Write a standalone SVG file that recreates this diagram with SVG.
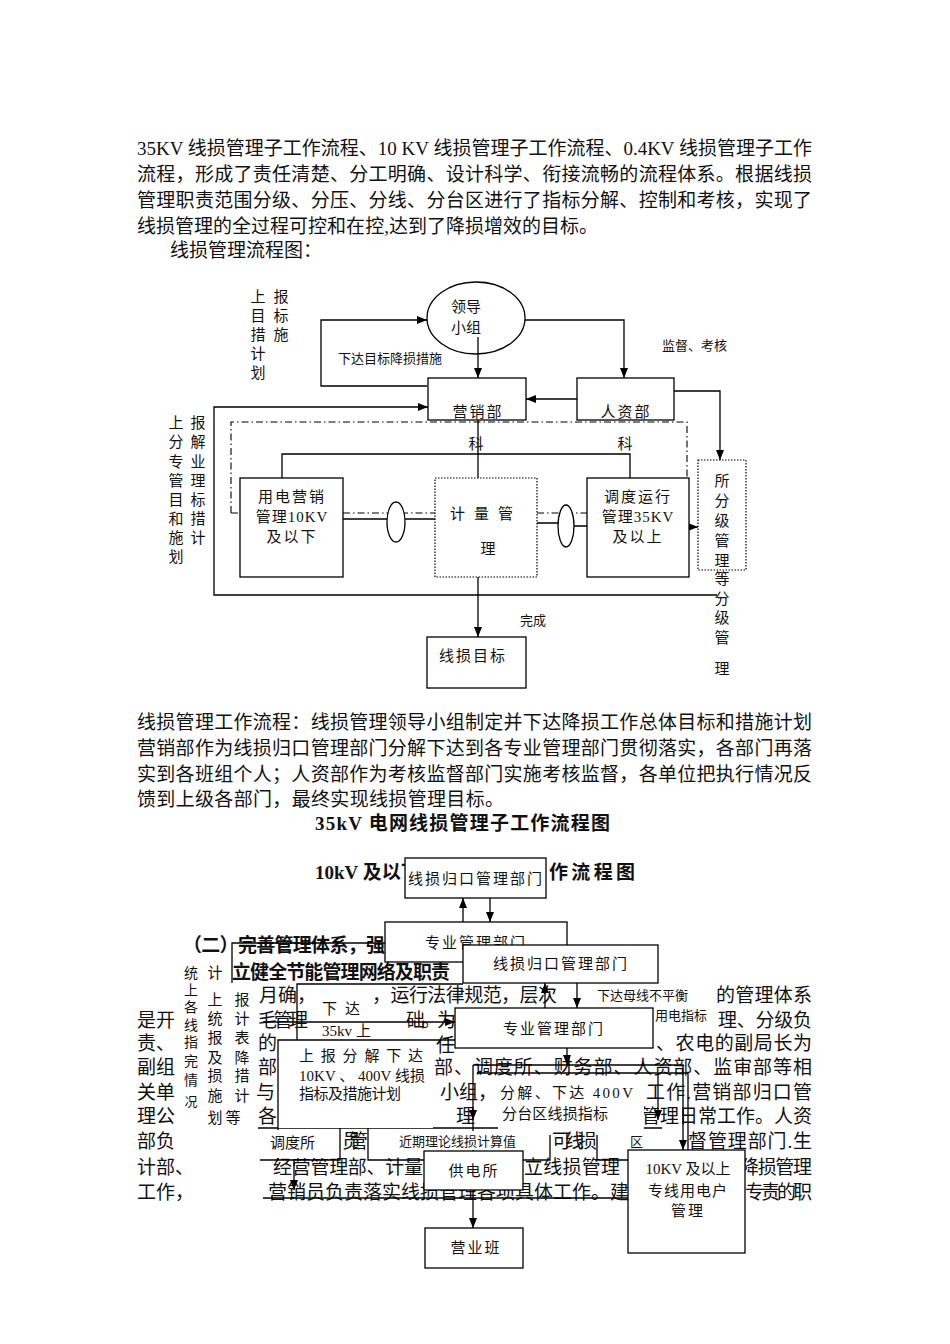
<svg xmlns="http://www.w3.org/2000/svg" width="950" height="1344" viewBox="0 0 950 1344">
<defs>
<style>
.p{font-family:"Liberation Serif","Noto Sans CJK SC",serif;font-size:19px;fill:#111}
.b{font-weight:bold}
.t{font-family:"Liberation Serif","Noto Sans CJK SC",serif;font-size:15px;fill:#111}
.s{font-family:"Noto Sans CJK SC",sans-serif;font-size:13px;fill:#111}
.m{text-anchor:middle}
.ln{stroke:#000;stroke-width:1.3;fill:none}
.bx{fill:#fff;stroke:#000;stroke-width:1.3}
.dt{fill:#fff;stroke:#000;stroke-width:1.2;stroke-dasharray:1.5 1.5}
.dd{stroke:#000;stroke-width:1.1;fill:none;stroke-dasharray:7 3 1.5 3}
.wh{fill:#fff;stroke:none}
</style>
<marker id="ah" viewBox="0 0 10 8" refX="10" refY="4" markerWidth="10" markerHeight="8" markerUnits="userSpaceOnUse" orient="auto"><path d="M0,0 L10,4 L0,8 z" fill="#000"/></marker>
</defs>
<rect width="950" height="1344" fill="#fff"/>

<g id="para1">
<text class="p" x="137" y="155" textLength="675">35KV 线损管理子工作流程、10 KV 线损管理子工作流程、0.4KV 线损管理子工作</text>
<text class="p" x="137" y="181" textLength="675">流程，形成了责任清楚、分工明确、设计科学、衔接流畅的流程体系。根据线损</text>
<text class="p" x="137" y="207" textLength="675">管理职责范围分级、分压、分线、分台区进行了指标分解、控制和考核，实现了</text>
<text class="p" x="137" y="233" textLength="461">线损管理的全过程可控和在控,达到了降损增效的目标。</text>
<text class="p" x="170" y="257">线损管理流程图：</text>
</g>

<g id="connectors1">
<path class="ln" d="M427,386 H321 V320 H427" marker-end="url(#ah)"/>
<path class="ln" d="M478,337 V378" marker-end="url(#ah)"/>
<path class="ln" d="M525,320 H624 V378" marker-end="url(#ah)"/>
<path class="ln" d="M577,399 H526" marker-end="url(#ah)"/>
<path class="ln" d="M674,391 H720 V460" marker-end="url(#ah)"/>
<path class="ln" d="M717,595 H214 V407 H428" marker-end="url(#ah)"/>
<path class="ln" d="M478,420 V637" marker-end="url(#ah)"/>
<path class="ln" d="M282,478 V454 H630 V478"/>
<path class="dd" d="M231,513 V422 H687 V478"/>
<path class="dd" d="M231,513 H240 M343,513 H435 M537,513 H587"/>
<path class="ln" d="M343,519 H435"/>
<path class="ln" d="M537,523 H558 M574,526 H587"/>
<path class="ln" d="M689,527 H698" marker-end="url(#ah)"/>
</g>

<g id="n-lingdao">
<ellipse class="bx" cx="476" cy="318" rx="49" ry="36" fill-opacity="0"/>
<text class="t m" x="466" y="312" font-size="14">领导</text>
<text class="t m" x="466" y="333" font-size="14">小组</text>
</g>
<g id="n-yingxiao">
<rect class="bx" x="428" y="378" width="98" height="42"/>
<text class="t m" x="478" y="417" font-size="17" letter-spacing="2">营销部</text>
</g>
<g id="n-renzi">
<rect class="bx" x="577" y="378" width="97" height="42"/>
<text class="t m" x="626" y="417" font-size="17" letter-spacing="2">人资部</text>
</g>
<g id="n-yongdian">
<rect class="bx" x="240" y="478" width="103" height="99"/>
<text class="t m" x="292" y="502" letter-spacing="2">用电营销</text>
<text class="t m" x="292" y="522" letter-spacing="1">管理10KV</text>
<text class="t m" x="292" y="542" letter-spacing="2">及以下</text>
</g>
<g id="n-jiliang">
<rect class="dt" x="435" y="478" width="102" height="99"/>
<text class="t m" x="486" y="519" letter-spacing="9">计量管</text>
<text class="t m" x="488" y="554">理</text>
</g>
<g id="n-diaodu">
<rect class="bx" x="587" y="478" width="102" height="99"/>
<text class="t m" x="638" y="502" letter-spacing="2">调度运行</text>
<text class="t m" x="638" y="522" letter-spacing="1">管理35KV</text>
<text class="t m" x="638" y="542" letter-spacing="2">及以上</text>
</g>
<g id="n-ellipses">
<ellipse class="bx" cx="396" cy="522" rx="9" ry="20"/>
<ellipse class="bx" cx="566" cy="526" rx="8" ry="21"/>
</g>
<g id="n-suofenji">
<rect class="dt" x="698" y="460" width="48" height="110"/>
<g class="t m" font-size="16">
<text x="722" y="486">所</text><text x="722" y="506">分</text><text x="722" y="526">级</text><text x="722" y="546">管</text><text x="722" y="566">理</text><text x="722" y="584">等</text><text x="722" y="604">分</text><text x="722" y="623">级</text><text x="722" y="643">管</text><text x="722" y="674">理</text>
</g>
</g>
<g id="n-mubiao">
<rect class="bx" x="427" y="637" width="99" height="51"/>
<text class="t" x="439" y="661" letter-spacing="2">线损目标</text>
</g>
<g id="labels1">
<text class="s" x="338" y="363">下达目标降损措施</text>
<text class="s" x="662" y="350">监督、考核</text>
<text class="s" x="520" y="625">完成</text>
<text class="t m" x="476" y="449">科</text>
<text class="t m" x="625" y="449">科</text>
<g class="t m">
<text x="258" y="302">上</text><text x="281" y="302">报</text>
<text x="258" y="321">目</text><text x="281" y="321">标</text>
<text x="258" y="340">措</text><text x="281" y="340">施</text>
<text x="258" y="359">计</text>
<text x="258" y="378">划</text>
<text x="176" y="428">上</text><text x="198" y="428">报</text>
<text x="176" y="447">分</text><text x="198" y="447">解</text>
<text x="176" y="467">专</text><text x="198" y="467">业</text>
<text x="176" y="486">管</text><text x="198" y="486">理</text>
<text x="176" y="505">目</text><text x="198" y="505">标</text>
<text x="176" y="524">和</text><text x="198" y="524">措</text>
<text x="176" y="543">施</text><text x="198" y="543">计</text>
<text x="176" y="562">划</text>
</g>
</g>

<g id="para2">
<text class="p" x="137" y="729" textLength="675">线损管理工作流程：线损管理领导小组制定并下达降损工作总体目标和措施计划</text>
<text class="p" x="137" y="755" textLength="675">营销部作为线损归口管理部门分解下达到各专业管理部门贯彻落实，各部门再落</text>
<text class="p" x="137" y="781" textLength="675">实到各班组个人；人资部作为考核监督部门实施考核监督，各单位把执行情况反</text>
<text class="p" x="137" y="806" textLength="367">馈到上级各部门，最终实现线损管理目标。</text>
<text class="p b" x="315" y="830" font-size="18" textLength="295">35kV 电网线损管理子工作流程图</text>
<text class="p b" x="315" y="879" font-size="18">10kV 及以下</text>
<text class="p b" x="549" y="879" font-size="18" textLength="86">作流程图</text>
<text class="p b" x="183" y="952" textLength="202">（二）完善管理体系，强</text>
<text class="p b" x="232" y="979" textLength="218">立健全节能管理网络及职责</text>
</g>

<g id="para3">
<text class="p" x="259" y="1002">月确，</text>
<text class="p" x="372" y="1002" textLength="185">，运行法律规范，层次</text>
<text class="p" x="716" y="1002" textLength="96">的管理体系</text>
<text class="p" x="137" y="1027">是开</text>
<text class="p" x="258" y="1027" textLength="50">毛管理</text>
<text class="p" x="406" y="1027" textLength="50">础。为</text>
<text class="p" x="718" y="1027" textLength="94">理、分级负</text>
<text class="p" x="137" y="1050">责、</text>
<text class="p" x="258" y="1050">的</text>
<text class="p" x="436" y="1052">任</text>
<text class="p" x="656" y="1050" textLength="156">、农电的副局长为</text>
<text class="p" x="137" y="1074">副组</text>
<text class="p" x="258" y="1074">部、</text>
<text class="p" x="434" y="1074" textLength="378">部、调度所、财务部、人资部、监审部等相</text>
<text class="p" x="137" y="1099">关单</text>
<text class="p" x="256" y="1099">与</text>
<text class="p" x="440" y="1099" textLength="57">小组，</text>
<text class="p" x="646" y="1099" textLength="166">工作.营销部归口管</text>
<text class="p" x="137" y="1123">理公</text>
<text class="p" x="258" y="1123">各</text>
<text class="p" x="456" y="1123">理</text>
<text class="p" x="641" y="1123" textLength="171">管理日常工作。人资</text>
<text class="p" x="137" y="1148">部负</text>
<text class="p" x="342" y="1148" textLength="26">员管</text>
<text class="p" x="552" y="1148" textLength="45">可线损</text>
<text class="p" x="688" y="1148" textLength="124">督管理部门.生</text>
<text class="p" x="137" y="1174">计部、</text>
<text class="p" x="273" y="1174" textLength="150">经营管理部、计量</text>
<text class="p" x="524" y="1174" textLength="96">立线损管理</text>
<text class="p" x="740" y="1174" textLength="72">降损管理</text>
<text class="p" x="137" y="1199">工作，</text>
<text class="p" x="268" y="1199" textLength="361">营销员负责落实线损管理各项具体工作。建</text>
<text class="p" x="745" y="1199" textLength="67">专责的职</text>
</g>

<g id="connectors2">
<path class="ln" d="M258,1128 H662"/>
<path class="ln" d="M463,922 V898" marker-end="url(#ah)"/>
<path class="ln" d="M490,898 V922" marker-end="url(#ah)"/>
<path class="ln" d="M232,983 V943 H385"/>
<path class="ln" d="M545,1008 V983" marker-end="url(#ah)"/>
<path class="ln" d="M577,983 V1008" marker-end="url(#ah)"/>
<path class="ln" d="M297,1040 V984 H463"/>
<path class="ln" d="M567,1048 V1065" marker-end="url(#ah)"/>
<path class="ln" d="M473,1065 H683 V1150" marker-end="url(#ah)"/>
<path class="ln" d="M477,1073 H688 V1150"/>
<path class="ln" d="M473,1065 V1120" marker-end="url(#ah)"/>
<path class="ln" d="M473,1120 V1151" marker-end="url(#ah)"/>
<path class="ln" d="M658,1073 V1120" marker-end="url(#ah)"/>
<path class="ln" d="M473,1190 V1228" marker-end="url(#ah)"/>
<path class="ln" d="M294,1160 V1190" marker-end="url(#ah)"/>
<path class="ln" d="M263,1198 H632"/>
</g>

<g id="n-xiada35">
<rect class="wh" x="312" y="993" width="60" height="45"/>
<text class="t" x="322" y="1014" letter-spacing="8">下达</text>
<text class="t" x="322" y="1036" font-size="14">35kv</text>
<text class="t" x="356" y="1036">上</text>
<path class="ln" d="M263,1022 H455" marker-end="url(#ah)"/>
</g>
<g id="n-guikou1">
<rect class="bx" x="405" y="858" width="141" height="40"/>
<text class="t m" x="476" y="884" letter-spacing="2">线损归口管理部门</text>
</g>
<g id="n-zhuanye1">
<rect class="bx" x="385" y="922" width="182" height="40"/>
<text class="t m" x="476" y="948" letter-spacing="2">专业管理部门</text>
</g>
<g id="n-guikou2">
<rect class="bx" x="463" y="945" width="195" height="38"/>
<text class="t m" x="561" y="969" letter-spacing="2">线损归口管理部门</text>
</g>
<g id="n-muxian">
<text class="s" x="597" y="1000">下达母线不平衡</text>
<text class="s" x="655" y="1020">用电指标</text>
</g>
<g id="n-zhuanye2">
<rect class="bx" x="455" y="1008" width="198" height="40"/>
<text class="t m" x="554" y="1034" letter-spacing="2">专业管理部门</text>
</g>
<g id="n-shangbao">
<rect class="wh" x="278" y="1040" width="155" height="88"/>
<path class="ln" d="M278,1160 V1040 H455"/>
<text class="t" x="299" y="1061" textLength="124">上报分解下达</text>
<text class="t" x="299" y="1081" textLength="126">10KV 、 400V 线损</text>
<text class="t" x="299" y="1099" textLength="102">指标及措施计划</text>
</g>
<g id="n-fenjie400">
<rect class="wh" x="498" y="1078" width="146" height="52"/>
<text class="t" x="500" y="1098" textLength="133">分解、下达 400V</text>
<text class="t" x="502" y="1119" textLength="106">分台区线损指标</text>
</g>
<g id="n-diaodusuo">
<rect class="wh" x="262" y="1130" width="77" height="28"/>
<text class="t" x="270" y="1148">调度所</text>
<path class="ln" d="M260,1160 H340 V1128 M368,1128 V1160 H424 M523,1160 H550 V1135 M597,1135 V1160 H628"/>
</g>
<g id="n-jinqi">
<rect class="wh" x="397" y="1131" width="136" height="19"/>
<text class="s" x="399" y="1146">近期理论线损计算值</text>
<rect class="wh" x="599" y="1132" width="50" height="19"/>
<text class="s" x="630" y="1146">区</text>
</g>
<g id="n-gongdiansuo">
<rect class="bx" x="424" y="1151" width="99" height="39"/>
<text class="t m" x="474" y="1176" letter-spacing="2">供电所</text>
</g>
<g id="n-yingyeban">
<rect class="bx" x="425" y="1228" width="98" height="40"/>
<text class="t m" x="476" y="1253" letter-spacing="2">营业班</text>
</g>
<g id="n-10kv">
<rect class="bx" x="628" y="1150" width="117" height="103"/>
<text class="t m" x="688" y="1174">10KV 及以上</text>
<text class="t m" x="688" y="1196" letter-spacing="1">专线用电户</text>
<text class="t m" x="688" y="1216" letter-spacing="2">管理</text>
</g>
<g id="n-tongji" class="t m">
<text x="191" y="978" font-size="14">统</text><text x="215" y="978">计</text>
<text x="191" y="995" font-size="14">上</text>
<text x="191" y="1012" font-size="14">各</text>
<text x="191" y="1030" font-size="14">线</text>
<text x="191" y="1047" font-size="14">指</text>
<text x="191" y="1066" font-size="14">完</text>
<text x="191" y="1085" font-size="14">情</text>
<text x="191" y="1106" font-size="13">况</text>
<text x="215" y="1005">上</text><text x="242" y="1005">报</text>
<text x="215" y="1024">统</text><text x="242" y="1024">计</text>
<text x="215" y="1043">报</text><text x="242" y="1043">表</text>
<text x="215" y="1063">及</text><text x="242" y="1063">降</text>
<text x="215" y="1081">损</text><text x="242" y="1081">措</text>
<text x="215" y="1101">施</text><text x="242" y="1101">计</text>
<text x="215" y="1123">划</text><text x="233" y="1123">等</text>
</g>
</svg>
